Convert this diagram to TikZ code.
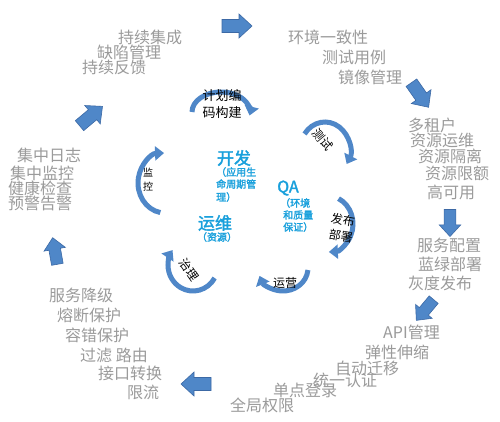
\documentclass[tikz,border=0pt]{standalone}
\usepackage{fontspec}
\setmainfont{Noto Sans CJK SC}[AutoFakeBold=2]
\usetikzlibrary{arrows.meta}
\definecolor{gtext}{RGB}{155,155,155}
\definecolor{btext}{RGB}{25,160,220}
\definecolor{afill}{RGB}{79,135,200}
\definecolor{aedge}{RGB}{60,105,165}
\tikzset{
  gtxt/.style={text=gtext, font=\fontsize{16}{16}\selectfont, anchor=west, inner sep=0pt},
  btxt/.style={text=btext, font=\fontsize{17}{17}\selectfont\bfseries, inner sep=0pt},
  bsmall/.style={text=btext, font=\fontsize{10}{10}\selectfont\bfseries, anchor=west, inner sep=0pt},
  ktxt/.style={text=black, font=\fontsize{12}{12}\selectfont, inner sep=0pt},
  carc/.style={draw=afill, line width=5pt, -{Triangle[width=14pt,length=9pt]}},
  barrow/.pic={\draw[fill=afill,draw=aedge,line width=0.6pt,line join=miter]
     (-15,-6.5) -- (2,-6.5) -- (2,-12) -- (15,0) -- (2,12) -- (2,6.5) -- (-15,6.5) -- cycle;}
}
\begin{document}
\begin{tikzpicture}[x=1pt,y=-1pt]
\useasboundingbox[fill=white] (0,0) rectangle (500,421);

% block arrows
\pic[rotate=0] at (237,26) {barrow};
\pic[rotate=-55] at (420,95) {barrow};
\pic[rotate=-90,scale=0.9] at (450,223) {barrow};
\pic[rotate=-130,scale=0.9] at (425,310) {barrow};
\pic[rotate=180] at (196,384) {barrow};
\pic[rotate=100,scale=0.9] at (55,251) {barrow};
\pic[rotate=40] at (91,116) {barrow};

% curved arrows
\coordinate (c1) at (221,112);
\coordinate (c2) at (325,150);
\coordinate (c3) at (328,224);
\coordinate (c4) at (283,268);
\coordinate (c5) at (193,265);
\coordinate (c6) at (165,183);
\draw[carc] (c1) ++(180:29 and 20) arc[start angle=180,end angle=370,x radius=29,y radius=20];
\draw[carc] (c2) ++(215:25 and 28) arc[start angle=215,end angle=390,x radius=25,y radius=28];
\draw[carc] (c3) ++(295:25 and 28) arc[start angle=295,end angle=448,x radius=25,y radius=28];
\draw[carc] (c4) ++(5:25 and 23) arc[start angle=5,end angle=160,x radius=25,y radius=23];
\draw[carc] (c5) ++(30:25 and 26) arc[start angle=30,end angle=215,x radius=25,y radius=26];
\draw[carc] (c6) ++(100:27 and 30) arc[start angle=100,end angle=268,x radius=27,y radius=30];

% labels on curved arrows
\node[ktxt,font=\fontsize{13}{13}\selectfont] (k1a) at (222,96) {计划编};
\node[ktxt,font=\fontsize{13}{13}\selectfont] (k1b) at (222,113) {码构建};
\node[ktxt,rotate=-50] (k2) at (323,140) {测试};
\node[ktxt,rotate=-10] (k3a) at (343,220) {发布};
\node[ktxt,rotate=-10] (k3b) at (341,236) {部署};
\node[ktxt] (k4) at (285,283) {运营};
\node[ktxt,rotate=-55] (k5) at (189,270) {治理};
\node[ktxt,font=\fontsize{10}{10}\selectfont] (k6a) at (148,173) {监};
\node[ktxt,font=\fontsize{10}{10}\selectfont] (k6b) at (148,187) {控};

% blue centre texts
\node[btxt] (dev) at (234,158) {开发};
\node[bsmall] (dev1) at (216,172) {（应用生};
\node[bsmall] (dev2) at (216,184) {命周期管};
\node[bsmall] (dev3) at (216,197) {理）};
\node[btxt,font=\fontsize{16}{16}\selectfont\bfseries] (qa) at (288,188) {QA};
\node[bsmall] (qa1) at (280,203) {（环境};
\node[bsmall] (qa2) at (283,215) {和质量};
\node[bsmall] (qa3) at (283,227) {保证）};
\node[btxt] (ops) at (215,223) {运维};
\node[bsmall,anchor=center] (ops1) at (217,237) {（资源）};

% gray texts
\node[gtxt] (t1) at (118,37) {持续集成};
\node[gtxt] (t2) at (97,52) {缺陷管理};
\node[gtxt] (t3) at (82,67) {持续反馈};

\node[gtxt] (r1) at (288,37) {环境一致性};
\node[gtxt] (r2) at (322,57) {测试用例};
\node[gtxt] (r3) at (338,77) {镜像管理};

\node[gtxt] (m1) at (408,125) {多租户};
\node[gtxt] (m2) at (410,140) {资源运维};
\node[gtxt] (m3) at (418,156) {资源隔离};
\node[gtxt] (m4) at (425,173) {资源限额};
\node[gtxt] (m5) at (427,192) {高可用};

\node[gtxt] (s1) at (417,245) {服务配置};
\node[gtxt] (s2) at (418,264) {蓝绿部署};
\node[gtxt] (s3) at (408,283) {灰度发布};

\node[gtxt] (a1) at (383,332) {API管理};
\node[gtxt] (a2) at (365,352) {弹性伸缩};
\node[gtxt] (a3) at (335,368) {自动迁移};
\node[gtxt] (a4) at (313,380) {统一认证};
\node[gtxt] (a5) at (273,390) {单点登录};
\node[gtxt] (a6) at (230,405) {全局权限};

\node[gtxt] (f1) at (49,295) {服务降级};
\node[gtxt] (f2) at (57,315) {熔断保护};
\node[gtxt] (f3) at (65,335) {容错保护};
\node[gtxt] (f4) at (80,355) {过滤 路由};
\node[gtxt] (f5) at (98,373) {接口转换};
\node[gtxt] (f6) at (127,392) {限流};

\node[gtxt] (l1) at (17,155) {集中日志};
\node[gtxt] (l2) at (10,173) {集中监控};
\node[gtxt] (l3) at (8,188) {健康检查};
\node[gtxt] (l4) at (8,203) {预警告警};
\end{tikzpicture}
\end{document}
